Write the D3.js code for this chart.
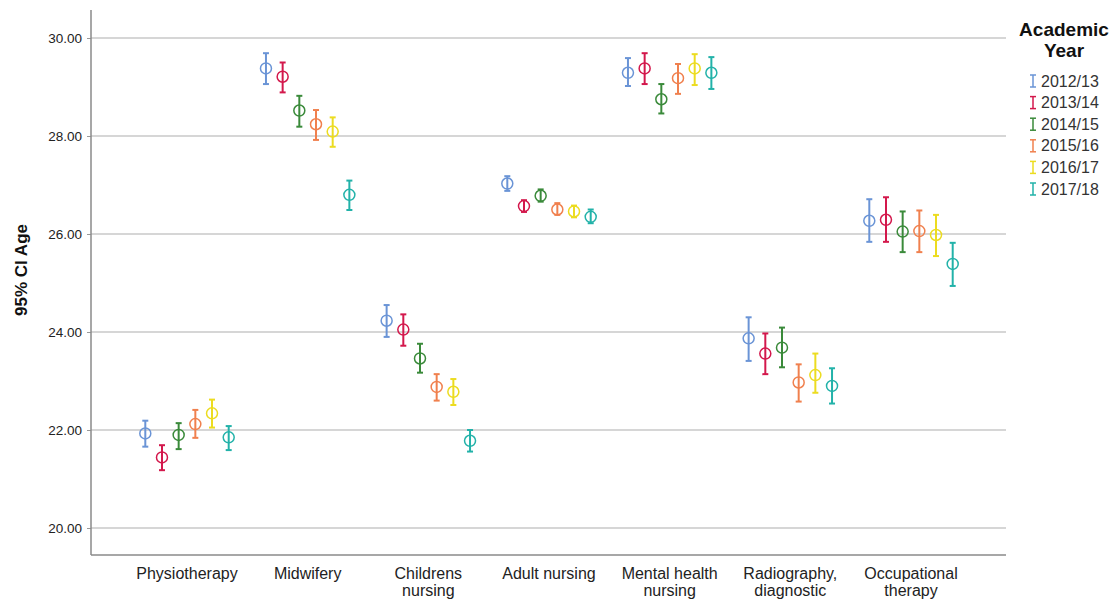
<!DOCTYPE html>
<html><head><meta charset="utf-8">
<script src="https://cdn.jsdelivr.net/npm/d3@7"></script>
<style>body{margin:0;background:#fff;} svg{display:block;font-family:"Liberation Sans",Arial,sans-serif;}</style>
</head><body><svg id="c" width="1118" height="601"></svg>
<script>
const categories = ["Physiotherapy","Midwifery","Childrens nursing","Adult nursing","Mental health nursing","Radiography, diagnostic","Occupational therapy"];
const categoryLines = [["Physiotherapy"],["Midwifery"],["Childrens","nursing"],["Adult nursing"],["Mental health","nursing"],["Radiography,","diagnostic"],["Occupational","therapy"]];
const years = ["2012/13","2013/14","2014/15","2015/16","2016/17","2017/18"];
const colors = ["#6a94d6","#d3184c","#3a8a3a","#f0804e","#ecdc20","#22b2a9"];
// mean per year (rows) per category (cols)
const means = [
  [21.93, 29.38, 24.23, 27.03, 29.29, 23.87, 26.27],
  [21.44, 29.21, 24.05, 26.57, 29.38, 23.56, 26.29],
  [21.90, 28.52, 23.46, 26.78, 28.75, 23.68, 26.05],
  [22.12, 28.24, 22.88, 26.50, 29.18, 22.97, 26.06],
  [22.34, 28.09, 22.78, 26.46, 29.38, 23.12, 25.98],
  [21.85, 26.80, 21.78, 26.35, 29.29, 22.90, 25.39]
];
const upper = [
  [22.19, 29.69, 24.55, 27.18, 29.59, 24.30, 26.71],
  [21.69, 29.50, 24.36, 26.69, 29.69, 23.97, 26.75],
  [22.14, 28.82, 23.76, 26.91, 29.06, 24.09, 26.46],
  [22.41, 28.53, 23.14, 26.63, 29.47, 23.34, 26.48],
  [22.62, 28.38, 23.04, 26.58, 29.67, 23.56, 26.39],
  [22.08, 27.09, 22.00, 26.50, 29.61, 23.26, 25.82]
];
const lower = [
  [21.66, 29.06, 23.90, 26.88, 29.02, 23.41, 25.84],
  [21.18, 28.89, 23.72, 26.45, 29.06, 23.14, 25.84],
  [21.61, 28.19, 23.17, 26.66, 28.46, 23.28, 25.63],
  [21.84, 27.92, 22.60, 26.39, 28.86, 22.58, 25.63],
  [22.05, 27.78, 22.51, 26.34, 29.04, 22.76, 25.55],
  [21.59, 26.49, 21.56, 26.22, 28.96, 22.54, 24.94]
];
const yTicks = [20, 22, 24, 26, 28, 30];

const svg = d3.select("#c");
const L = 91, R = 1006, T = 10, B = 555;
const y = d3.scaleLinear().domain([20, 30]).range([528, 38]);
const x = d3.scalePoint().domain(categories).range([187, 911]);
const xo = d3.scalePoint().domain(years).range([-41.7, 41.7]);

// gridlines
svg.append("g").selectAll("line").data(yTicks).join("line")
  .attr("x1", L).attr("x2", R).attr("y1", d => y(d)).attr("y2", d => y(d))
  .attr("stroke", "#c8c8c8").attr("stroke-width", 1.3);

// y axis
const ya = svg.append("g").attr("transform", `translate(${L},0)`)
  .call(d3.axisLeft(y).tickValues(yTicks).tickFormat(d3.format(".2f")).tickSize(4).tickPadding(5));
ya.select(".domain").remove();
ya.selectAll(".tick line").attr("stroke", "#999");
ya.selectAll(".tick text").attr("font-size", 13.5).attr("fill", "#222").attr("font-family", '"Liberation Sans",Arial,sans-serif');

svg.append("line").attr("x1", L).attr("x2", L).attr("y1", T).attr("y2", B).attr("stroke", "#8a8a8a").attr("stroke-width", 1.5);
svg.append("line").attr("x1", L).attr("x2", R).attr("y1", B).attr("y2", B).attr("stroke", "#8a8a8a").attr("stroke-width", 1.5);

// y title
svg.append("text").attr("transform", "translate(27,270) rotate(-90)").attr("text-anchor", "middle")
  .attr("font-size", 17).attr("font-weight", "bold").attr("fill", "#111").text("95% CI Age");

// x labels
const xl = svg.append("g").selectAll("text").data(categories).join("text")
  .attr("x", d => x(d)).attr("y", 579).attr("text-anchor", "middle").attr("font-size", 16).attr("fill", "#222");
xl.each(function(d, i) {
  const t = d3.select(this);
  categoryLines[i].forEach((ln, k) => t.append("tspan").attr("x", x(d)).attr("dy", k === 0 ? 0 : 17).text(ln));
});

// error bars
years.forEach((yr, j) => {
  const g = svg.append("g").attr("stroke", colors[j]).attr("fill", "none");
  categories.forEach((c, i) => {
    const cx = x(c) + xo(yr);
    g.append("line").attr("x1", cx).attr("x2", cx).attr("y1", y(upper[j][i])).attr("y2", y(lower[j][i])).attr("stroke-width", 2);
    g.append("line").attr("x1", cx - 3).attr("x2", cx + 3).attr("y1", y(upper[j][i])).attr("y2", y(upper[j][i])).attr("stroke-width", 2);
    g.append("line").attr("x1", cx - 3).attr("x2", cx + 3).attr("y1", y(lower[j][i])).attr("y2", y(lower[j][i])).attr("stroke-width", 2);
    g.append("circle").attr("cx", cx).attr("cy", y(means[j][i])).attr("r", 5.5).attr("stroke-width", 1.5).attr("fill", "none");
  });
});

// legend
svg.append("text").attr("x", 1064).attr("y", 36).attr("text-anchor", "middle").attr("font-size", 19).attr("font-weight", "bold").attr("fill", "#111").text("Academic");
svg.append("text").attr("x", 1064).attr("y", 57).attr("text-anchor", "middle").attr("font-size", 19).attr("font-weight", "bold").attr("fill", "#111").text("Year");
const lg = svg.append("g").selectAll("g").data(years).join("g")
  .attr("transform", (d, i) => `translate(0,${81 + i * 21.6})`);
lg.each(function(d, i) {
  const g = d3.select(this);
  g.append("line").attr("x1", 1033).attr("x2", 1033).attr("y1", -6).attr("y2", 6).attr("stroke", colors[i]).attr("stroke-width", 1.5);
  g.append("line").attr("x1", 1030).attr("x2", 1036).attr("y1", -6).attr("y2", -6).attr("stroke", colors[i]).attr("stroke-width", 1.5);
  g.append("line").attr("x1", 1030).attr("x2", 1036).attr("y1", 6).attr("y2", 6).attr("stroke", colors[i]).attr("stroke-width", 1.5);
  g.append("text").attr("x", 1041).attr("y", 5.5).attr("font-size", 16).attr("fill", "#333").text(d);
});
</script></body></html>
